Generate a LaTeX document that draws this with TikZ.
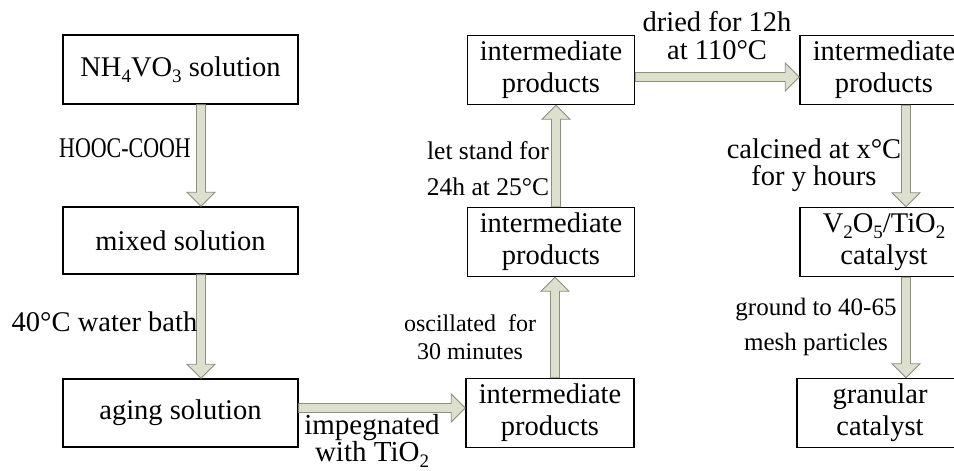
\documentclass[tikz,border=0pt]{standalone}
\usepackage{fontspec}
\setmainfont{Liberation Serif}
\usetikzlibrary{calc}
\definecolor{afill}{HTML}{DDE0CC}
\definecolor{aline}{HTML}{8C8F80}
\newcommand{\chsub}[1]{\raisebox{-0.22em}{\fontsize{19}{19}\selectfont #1}}
\tikzset{
  box/.style={draw=black, line width=1.4pt, fill=white, minimum height=69pt, inner sep=0pt, align=center, font=\fontsize{28.5}{32}\selectfont},
  lbl/.style={inner sep=0pt, align=center, font=\fontsize{28.5}{28}\selectfont},
  slbl/.style={inner sep=0pt, align=center, font=\fontsize{25}{35}\selectfont},
  blk/.style={fill=afill, draw=aline, line width=0.8pt, line join=miter},
  arrowdown/.style={blk, to path={let \p1=(\tikztostart), \p2=(\tikztotarget) in
    (\x1-4.5pt,\y1) -- (\x1-4.5pt,\y2+14pt) -- (\x1-14pt,\y2+14pt) -- (\x1,\y2) -- (\x1+14pt,\y2+14pt) -- (\x1+4.5pt,\y2+14pt) -- (\x1+4.5pt,\y1) -- cycle}},
  arrowup/.style={blk, to path={let \p1=(\tikztostart), \p2=(\tikztotarget) in
    (\x1-4.5pt,\y1) -- (\x1-4.5pt,\y2-14pt) -- (\x1-14pt,\y2-14pt) -- (\x1,\y2) -- (\x1+14pt,\y2-14pt) -- (\x1+4.5pt,\y2-14pt) -- (\x1+4.5pt,\y1) -- cycle}},
  arrowright/.style={blk, to path={let \p1=(\tikztostart), \p2=(\tikztotarget) in
    (\x1,\y1+4.5pt) -- (\x2-14pt,\y1+4.5pt) -- (\x2-14pt,\y1+14pt) -- (\x2,\y1) -- (\x2-14pt,\y1-14pt) -- (\x2-14pt,\y1-4.5pt) -- (\x1,\y1-4.5pt) -- cycle}},
}
\begin{document}
\begin{tikzpicture}[x=1pt,y=-1pt]
\useasboundingbox[fill=white] (0,0) rectangle (954,471);
\clip (0,0) rectangle (954,471);
% left column
\node[box, minimum width=235pt] (n1) at (180.5,69.5) {NH\chsub{4}VO\chsub{3} solution};
\node[box, minimum width=235pt, minimum height=67pt] (n2) at (180.5,240.5) {mixed solution};
\node[box, minimum width=235pt, minimum height=68pt] (n3) at (180.5,413) {aging solution};
% middle column
\node[box, minimum width=167pt] (m1) at (551,70) {intermediate\\products};
\node[box, minimum width=167pt] (m2) at (551,242) {intermediate\\products};
\node[box, minimum width=168pt] (m3) at (550,413) {intermediate\\products};
% right column
\node[box, minimum width=168pt] (r1) at (884,70) {intermediate\\products};
\node[box, minimum width=168pt] (r2) at (884,242) {V\chsub{2}O\chsub{5}/TiO\chsub{2}\\catalyst};
\node[box, minimum width=166pt] (r3) at (880,413) {granular\\catalyst};
% arrows
\draw[arrowdown] ([xshift=20.5pt]n1.south) to ([xshift=20.5pt]n2.north);
\draw[arrowdown] ([xshift=20.5pt]n2.south) to ([xshift=20.5pt]n3.north);
\draw[arrowright] ([yshift=5pt]n3.east) to ([yshift=5pt]n3.east -| m3.west);
\draw[arrowup] ([xshift=5pt]m3.north) to ([xshift=5pt]m2.south);
\draw[arrowup] ([xshift=5pt]m2.north) to ([xshift=5pt]m1.south);
\draw[arrowright] ([yshift=-7pt]m1.east) to ([yshift=-7pt]m1.east -| r1.west);
\draw[arrowdown] ([xshift=22pt]r1.south) to ([xshift=22pt]r1.south |- r2.north);
\draw[arrowdown] ([xshift=22pt]r2.south) to ([xshift=22pt]r2.south |- r3.north);
% labels
\node[lbl] (l1) at (125,148) {\scalebox{0.77}[1]{HOOC-COOH}};
\node[lbl] (l2) at (104.5,322) {40°C water bath};
\node[lbl, font=\fontsize{29}{27}\selectfont] (l3) at (372,441) {impegnated\\with TiO\chsub{2}};
\node[slbl, font=\fontsize{24}{28}\selectfont] (l4) at (470,337) {oscillated \ for\\30 minutes};
\node[slbl, font=\fontsize{25.5}{36}\selectfont] (l5) at (488,169) {let stand for\\24h at 25°C};
\node[lbl] (l6) at (717,36) {dried for 12h\\at 110°C};
\node[lbl, font=\fontsize{28.5}{27}\selectfont] (l7) at (814,165) {calcined at x°C\\for y hours};
\node[slbl] (l8) at (816,327) {ground to 40-65\\mesh particles};
\end{tikzpicture}
\end{document}
